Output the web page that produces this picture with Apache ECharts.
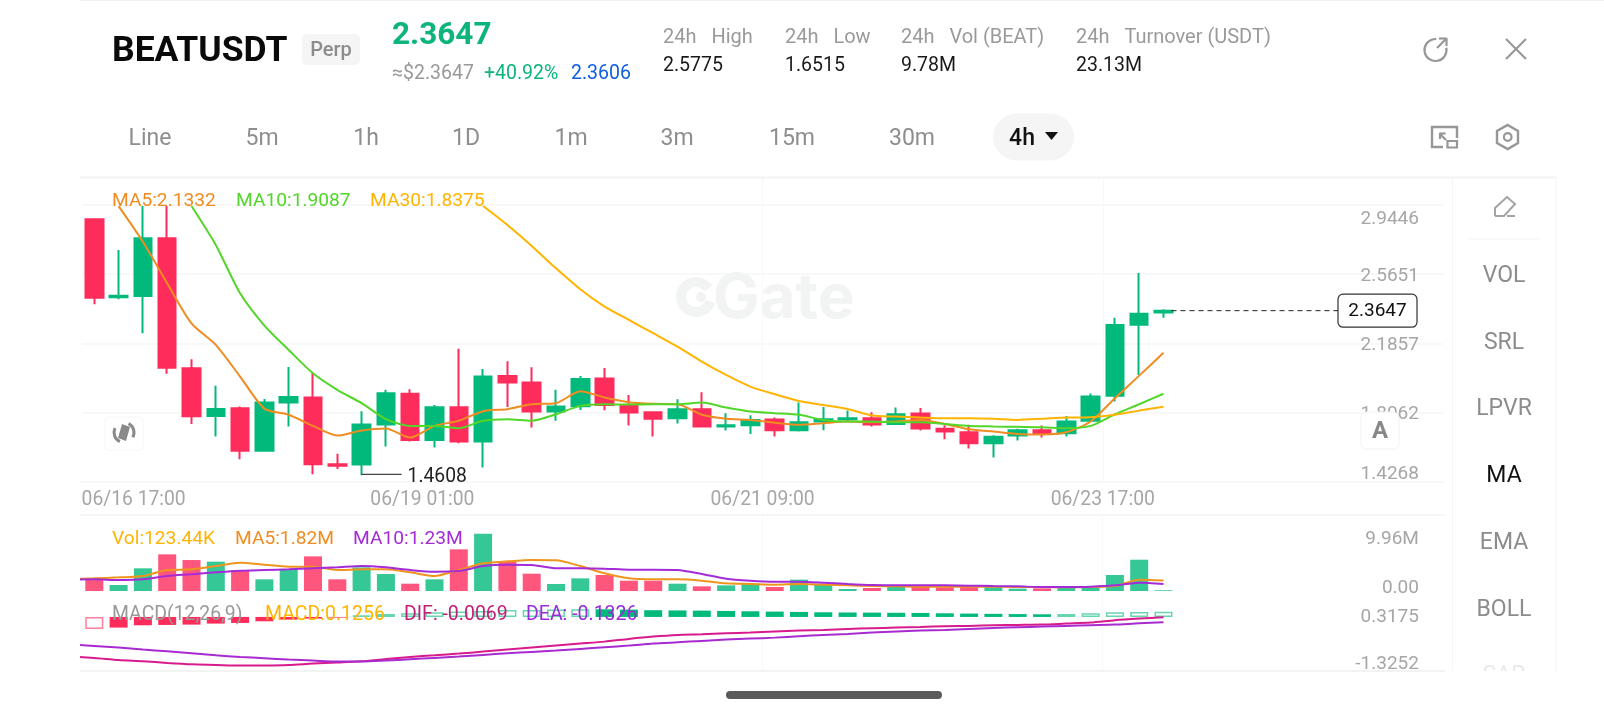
<!DOCTYPE html>
<html>
<head>
<meta charset="utf-8">
<title>BEATUSDT</title>
<style>html,body{margin:0;padding:0;background:#fff}#c{width:1604px;height:720px}</style>
<script src="https://cdn.jsdelivr.net/npm/echarts@6/dist/echarts.min.js"></script>
</head>
<body>
<div id="c"></div>
<script>
var categories = ["06/16 17:00","06/16 21:00","06/17 01:00","06/17 05:00","06/17 09:00","06/17 13:00","06/17 17:00","06/17 21:00","06/18 01:00","06/18 05:00","06/18 09:00","06/18 13:00","06/18 17:00","06/18 21:00","06/19 01:00","06/19 05:00","06/19 09:00","06/19 13:00","06/19 17:00","06/19 21:00","06/20 01:00","06/20 05:00","06/20 09:00","06/20 13:00","06/20 17:00","06/20 21:00","06/21 01:00","06/21 05:00","06/21 09:00","06/21 13:00","06/21 17:00","06/21 21:00","06/22 01:00","06/22 05:00","06/22 09:00","06/22 13:00","06/22 17:00","06/22 21:00","06/23 01:00","06/23 05:00","06/23 09:00","06/23 13:00","06/23 17:00","06/23 21:00","06/24 01:00","","","","","","","","","","",""];
var opens  = [2.866,2.438,2.445,2.762,2.049,1.787,1.829,1.595,1.860,1.888,1.522,1.520,1.740,1.908,1.655,1.835,1.646,2.006,1.970,1.811,1.840,1.992,1.847,1.807,1.774,1.824,1.729,1.736,1.767,1.708,1.756,1.769,1.774,1.743,1.800,1.716,1.697,1.637,1.679,1.708,1.692,1.761,1.897,2.288,2.354];
var closes = [2.436,2.447,2.762,2.052,1.785,1.825,1.595,1.860,1.891,1.522,1.513,1.740,1.911,1.655,1.835,1.646,2.003,1.970,1.811,1.838,1.990,1.847,1.805,1.772,1.824,1.729,1.736,1.765,1.708,1.752,1.769,1.774,1.740,1.796,1.718,1.701,1.637,1.672,1.708,1.688,1.756,1.893,2.286,2.348,2.3647];
var lows   = [2.400,2.427,2.241,2.019,1.743,1.674,1.549,1.591,1.729,1.467,1.496,1.4608,1.619,1.646,1.613,1.637,1.504,1.836,1.723,1.760,1.820,1.818,1.734,1.674,1.745,1.725,1.707,1.688,1.674,1.701,1.708,1.756,1.729,1.740,1.707,1.659,1.608,1.558,1.652,1.668,1.674,1.758,1.866,2.012,2.326];
var highs  = [2.866,2.698,2.939,2.939,2.098,1.953,1.838,1.880,2.056,2.025,1.579,1.813,1.930,1.933,1.847,2.155,2.045,2.087,2.054,1.930,2.006,2.050,1.902,1.807,1.878,1.917,1.802,1.791,1.778,1.860,1.836,1.816,1.807,1.833,1.831,1.736,1.738,1.681,1.716,1.734,1.787,1.910,2.326,2.572,2.372];
var ma5  = [null,2.939,2.743,2.515,2.295,2.177,2.003,1.827,1.793,1.732,1.679,1.707,1.718,1.668,1.732,1.760,1.813,1.824,1.851,1.857,1.922,1.888,1.862,1.853,1.851,1.793,1.771,1.765,1.750,1.738,1.747,1.756,1.752,1.756,1.765,1.743,1.714,1.701,1.688,1.685,1.697,1.756,1.884,2.008,2.1332];
var ma10 = [null,null,null,null,2.939,2.725,2.460,2.283,2.149,2.021,1.930,1.857,1.769,1.732,1.732,1.719,1.760,1.769,1.761,1.796,1.842,1.851,1.849,1.851,1.851,1.860,1.833,1.811,1.802,1.793,1.765,1.756,1.756,1.752,1.752,1.743,1.732,1.729,1.727,1.725,1.719,1.732,1.796,1.851,1.9087];
var ma30 = [null,null,null,null,null,null,null,null,null,null,null,null,null,null,null,null,2.939,2.835,2.720,2.597,2.482,2.387,2.314,2.241,2.167,2.085,2.012,1.948,1.906,1.869,1.847,1.825,1.789,1.783,1.778,1.774,1.774,1.771,1.765,1.771,1.778,1.780,1.793,1.816,1.8375];
// The two lower panes keep one earlier bar, cut off by the pane's left edge.
var lowerCategories = ["06/16 13:00"].concat(categories);
var volumes = [null,1.91,1.04,3.94,6.37,5.38,5.10,3.65,2.03,3.76,6.02,2.03,4.11,2.95,1.27,2.03,7.24,9.96,5.10,3.01,1.22,2.20,2.78,1.79,1.79,1.27,0.81,0.98,1.27,0.69,1.97,1.16,0.35,0.52,0.87,0.69,0.64,0.69,0.87,0.41,0.46,0.58,0.69,2.78,5.44,0.12344];
var volMa5  = [2.08,2.20,2.37,2.61,3.65,3.76,4.34,4.92,4.57,4.23,4.23,3.65,3.76,3.76,3.24,2.61,3.65,4.81,5.15,5.38,5.33,4.34,3.07,2.20,2.03,2.03,1.79,1.33,1.22,1.10,1.22,1.10,0.98,0.87,0.81,0.75,0.75,0.75,0.75,0.69,0.69,0.64,0.69,0.87,1.95,1.82];
var volMa10 = [1.97,2.03,1.91,2.03,2.61,2.90,3.24,3.53,3.65,3.76,3.94,4.11,4.34,4.11,3.65,3.36,3.47,4.34,4.57,4.52,3.94,3.94,3.88,3.71,3.71,3.65,2.95,2.14,1.79,1.62,1.62,1.45,1.22,1.04,0.98,0.98,0.98,0.93,0.87,0.81,0.69,0.69,0.75,0.98,1.45,1.23];
var macdHist = [null,-0.294,-0.261,-0.204,-0.196,-0.188,-0.163,-0.147,-0.106,-0.065,-0.041,-0.016,0.041,0.074,0.090,0.114,0.131,0.147,0.172,0.172,0.180,0.190,0.188,0.180,0.165,0.160,0.155,0.147,0.139,0.131,0.123,0.114,0.110,0.106,0.102,0.098,0.090,0.082,0.076,0.070,0.065,0.074,0.090,0.114,0.122,0.1256];
var dif = [-0.970,-1.005,-1.054,-1.087,-1.127,-1.160,-1.176,-1.193,-1.190,-1.176,-1.144,-1.119,-1.087,-1.029,-0.980,-0.940,-0.899,-0.850,-0.801,-0.752,-0.703,-0.654,-0.605,-0.539,-0.482,-0.441,-0.425,-0.400,-0.384,-0.359,-0.335,-0.319,-0.294,-0.278,-0.261,-0.245,-0.229,-0.221,-0.204,-0.196,-0.188,-0.163,-0.139,-0.082,-0.041,-0.0069];
var dea = [-0.670,-0.711,-0.752,-0.801,-0.842,-0.891,-0.940,-0.980,-1.013,-1.046,-1.070,-1.095,-1.095,-1.070,-1.038,-1.005,-0.972,-0.931,-0.891,-0.858,-0.825,-0.784,-0.743,-0.703,-0.654,-0.621,-0.588,-0.556,-0.531,-0.507,-0.474,-0.441,-0.417,-0.384,-0.359,-0.335,-0.319,-0.294,-0.270,-0.253,-0.237,-0.221,-0.204,-0.188,-0.155,-0.1326];
var priceTicks = [1.4268,1.8062,2.1857,2.5651,2.9446];
var volTicks = [0,9.96];
var macdTicks = [-1.3252,0.3175];
var timeTicks = [-0.5,13.5,27.5,41.5];
var timeLabels = ["06/16 17:00","06/19 01:00","06/21 09:00","06/23 17:00"];
var lastPrice = 2.3647, lowMark = 1.4608, lowIndex = 11;

var GREEN='#02B97C', RED='#FE2C5B', FONT='Roboto, "Liberation Sans", sans-serif';
var GRIDLINE='#F8F8F8', AXISTXT='#A6A6A6', BAND=24.3;

var chart = echarts.init(document.getElementById('c'), null, {renderer:'canvas'});
var gridL = 82.15, gridW = 1360.8;
function catAxis(idx, pos, cats, lead){
  return {type:'category', gridIndex:idx, data:cats, position:pos, boundaryGap:true,
    axisLine:{show:false}, axisTick:{show:false}, axisLabel:{show:false},
    splitLine:{show:true, showMinLine:false, showMaxLine:false,
      interval:function(i){ var k=i-lead; return k>0 && k%14===0 && k<=42; },
      lineStyle:{color:'#F8F8F9', width:1}}};
}
function pad(t,b){ return {padding:[t,0,b,0],color:AXISTXT,fontFamily:FONT,fontSize:19}; }
function valAxis(idx, lo, hi, ticks, fmt, rich, split){
  return {type:'value', gridIndex:idx, position:'right', min:lo, max:hi,
    axisLine:{show:false}, axisTick:{show:false, customValues:ticks},
    splitLine:{show:split, lineStyle:{color:GRIDLINE, width:2}},
    axisLabel:{show:true, inside:true, margin:24, customValues:ticks, formatter:fmt, rich:rich,
      color:AXISTXT, fontFamily:FONT, fontSize:19}};
}
function line(name,xi,yi,data,color,w){
  return {name:name,type:'line',xAxisIndex:xi,yAxisIndex:yi,data:data,showSymbol:false,symbol:'none',smooth:0.25,
    lineStyle:{color:color,width:w||2},itemStyle:{color:color},z:5,animation:false};
}
var candleData = opens.map(function(o,i){return [o,closes[i],lows[i],highs[i]];});
var macdData = macdHist.map(function(v,i){
  if(v===null) return {value:null};
  var hollow = i===1 || Math.abs(v) >= Math.abs(macdHist[i-1]);
  var c = v>=0 ? GREEN : RED;
  return {value:v,itemStyle: hollow ? {color:'rgba(255,255,255,0)',borderColor:c,borderWidth:1.5,opacity:0.6} : {color:c}};
});

function T(s,x,y,fill,size,opt){
  opt=opt||{};
  return {type:'text',x:x,y:y+2,z:opt.z||30,silent:true,style:{text:s,fill:fill,
    font:(opt.weight||'400')+' '+size+'px '+(opt.family||FONT),
    textAlign:opt.align||'left',textVerticalAlign:'middle',opacity:opt.opacity==null?1:opt.opacity}};
}
function L(x1,y1,x2,y2,color,w,opt){
  opt=opt||{};
  return {type:'line',silent:true,z:opt.z||1,shape:{x1:x1,y1:y1,x2:x2,y2:y2},style:{stroke:color,lineWidth:w||1,lineCap:opt.cap||'butt',lineDash:opt.dash}};
}
function R(x,y,w,h,r,fill,stroke,opt){
  opt=opt||{};
  return {type:'rect',silent:true,z:opt.z||2,shape:{x:x,y:y,width:w,height:h,r:r},style:{fill:fill,stroke:stroke,lineWidth:opt.lw||1}};
}
var ICON='#979797', TAB='#8E8E8E', SIDE='#8C8C8C';
var g = [
  // frame
  L(80,177.5,1556,177.5,'#F3F3F4',2), L(80,515,1445,515,'#F3F3F4',1.5), L(80,671,1445,671,'#F3F3F4',2),
  L(80,482,82,482,GRIDLINE,2), L(1443,482,1445,482,GRIDLINE,2),
  L(80,0.5,1604,0.5,'#F0F0F0',1),
  L(1452.5,178,1452.5,671,'#F6F6F7',1), L(1556,178,1556,671,'#F4F4F5',1),
  L(1468,239,1540,239,'#F3F3F4',1),
  // left cover for the lower panes
  {type:'rect',silent:true,z:25,shape:{x:0,y:516,width:80,height:160},style:{fill:'#fff'}},
  // header
  T('BEATUSDT',112,50,'#0A0A0A',35.5,{weight:'700'}),
  R(302,34,58,31,5,'#F5F5F5'), T('Perp',331,49,'#8C8C8C',20,{align:'center',weight:'500'}),
  T('2.3647',392,34,'#0DB47C',31.5,{weight:'700'}),
  T('≈$2.3647',392,72,'#999999',19.5), T('+40.92%',484,72,'#0DB47C',19.5), T('2.3606',571,72,'#0F5FE0',19.5),
  T('24h   High',663,36,'#9A9A9A',20), T('2.5775',663,64,'#1A1A1A',19.5),
  T('24h   Low',785,36,'#9A9A9A',20), T('1.6515',785,64,'#1A1A1A',19.5),
  T('24h   Vol (BEAT)',901,36,'#9A9A9A',20), T('9.78M',901,64,'#1A1A1A',19.5),
  T('24h   Turnover (USDT)',1076,36,'#9A9A9A',20), T('23.13M',1076,64,'#1A1A1A',19.5),
  // top icons
  {type:'arc',silent:true,z:30,shape:{cx:1435.5,cy:50,r:11,startAngle:-0.2,endAngle:-1.5,clockwise:true},style:{stroke:ICON,lineWidth:2.2,fill:null}},
  L(1437,48,1446,39,ICON,2.2,{z:30}), L(1439,38.5,1446.5,38.5,ICON,2.2,{z:30}), L(1446.5,38,1446.5,46,ICON,2.2,{z:30}),
  L(1506,39,1526,59,ICON,2.2,{z:30}), L(1526,39,1506,59,ICON,2.2,{z:30}),
  {type:'polyline',silent:true,z:30,shape:{points:[[1443,147],[1432,147],[1432,127],[1457,127],[1457,138]]},style:{stroke:ICON,lineWidth:2.4,fill:null}},
  R(1447.5,141,9.5,6.5,0,'#fff',ICON,{lw:2.2,z:30}),
  L(1440,134,1446,140,ICON,2.2,{z:30}), L(1440,139,1440,133,ICON,2.2,{z:30}),L(1439.5,133.5,1445.5,133.5,ICON,2.2,{z:30}),
  {type:'polygon',silent:true,z:30,shape:{points:[[1507.7,125],[1518,131],[1518,143],[1507.7,149],[1497,143],[1497,131]]},style:{stroke:ICON,lineWidth:2.4,fill:null}},
  {type:'circle',silent:true,z:30,shape:{cx:1507.7,cy:137,r:3.8},style:{stroke:ICON,lineWidth:2.2,fill:null}},
  // tabs
  T('Line',150,137.5,TAB,23,{align:'center'}), T('5m',262,137.5,TAB,23,{align:'center'}),
  T('1h',366,137.5,TAB,23,{align:'center'}), T('1D',466,137.5,TAB,23,{align:'center'}),
  T('1m',571,137.5,TAB,23,{align:'center'}), T('3m',677,137.5,TAB,23,{align:'center'}),
  T('15m',792,137.5,TAB,23,{align:'center'}), T('30m',912,137.5,TAB,23,{align:'center'}),
  R(993,113.5,81,47,23.5,'#F5F5F5'), T('4h',1022,137.5,'#111111',23,{align:'center',weight:'500'}),
  {type:'polygon',silent:true,z:30,shape:{points:[[1045,132],[1058,132],[1051.5,140]]},style:{fill:'#111'}},
  // watermark
  {type:'arc',silent:true,z:1,shape:{cx:696,cy:297,r:15,startAngle:0.3,endAngle:-0.6,clockwise:true},style:{stroke:'#F2F4F3',lineWidth:10,fill:null}},
  {type:'circle',silent:true,z:1,shape:{cx:701,cy:297,r:5},style:{fill:'#F2F4F3'}},
  T('Gate',713,297,'#F2F4F3',62,{weight:'700',z:1,family:'Inter, Roboto, sans-serif'}),
  // price legends
  T('MA5:2.1332',112,199,'#EF8C22',19.2), T('MA10:1.9087',236,199,'#52D62A',19.2), T('MA30:1.8375',370,199,'#FFB400',19.2),
  T('Vol:123.44K',112,537,'#FFB400',19.2), T('MA5:1.82M',235,537,'#EF8C22',19.2), T('MA10:1.23M',353,537,'#A42BD8',19.2),
  T('MACD(12,26,9)',112,613.5,'#999999',19.4), T('MACD:0.1256',265,613.5,'#FFB400',19.5), T('DIF: -0.0069',404,613.5,'#C21E78',19.5), T('DEA: -0.1326',526,613.5,'#9A2BD8',19.5),
  // side panel
  {type:'polyline',silent:true,z:30,shape:{points:[[1495,216],[1495,208],[1507,197],[1515,204],[1504,216],[1495,216]]},style:{stroke:'#A3A3A3',lineWidth:2,fill:null}},
  L(1507,216,1515,216,'#A3A3A3',2,{z:30}),
  T('VOL',1504,274,SIDE,23,{align:'center'}), T('SRL',1504,341,SIDE,23,{align:'center'}),
  T('LPVR',1504,407.5,SIDE,23,{align:'center'}), T('MA',1504,474.5,'#111111',23,{align:'center'}),
  T('EMA',1504,541.5,SIDE,23,{align:'center'}), T('BOLL',1504,608.5,SIDE,23,{align:'center'}),
  T('SAR',1504,674,'#EAEAEA',23,{align:'center',z:26}),
  {type:'rect',silent:true,z:27,shape:{x:1453,y:671,width:120,height:20},style:{fill:'#fff'}},
  // buttons
  R(105,417,38,33,4,'#fff','#F6F6F6',{z:20}),
  {type:'arc',silent:true,z:21,shape:{cx:124,cy:432.5,r:10,startAngle:2.0,endAngle:3.6,clockwise:true},style:{stroke:'#8A8A8A',lineWidth:3,fill:null}},
  {type:'arc',silent:true,z:21,shape:{cx:124,cy:432.5,r:10,startAngle:-1.1,endAngle:0.5,clockwise:true},style:{stroke:'#8A8A8A',lineWidth:3,fill:null}},
  {type:'polygon',silent:true,z:21,shape:{points:[[122,424],[130,427],[126,441],[118,438]]},style:{fill:'#8A8A8A'}},
  R(1361,412,38,37,6,'#FFFFFF','#F2F2F2',{z:20}), T('A',1380,430,'#888888',24,{align:'center',weight:'700',z:21}),
  // home bar
  R(726,691,216,8,4,'#5A5A5A')
];

chart.setOption({
  animation:false,
  backgroundColor:'#fff',
  tooltip:{show:false},
  legend:{show:false},
  grid:[
    {left:gridL,width:gridW,top:177,height:304.5},
    {left:gridL-BAND,width:gridW+BAND,top:515,height:76},
    {left:gridL-BAND,width:gridW+BAND,top:591,height:80}
  ],
  xAxis:[
    catAxis(0,'top',categories,0),
    {type:'value',gridIndex:0,position:'bottom',min:-0.5,max:55.5,
      axisLine:{show:false},axisTick:{show:false},splitLine:{show:false},
      axisLabel:{show:true,customValues:timeTicks,margin:9,color:AXISTXT,fontFamily:FONT,fontSize:19.3,
        rich:{f:{padding:[0,0,0,103],color:AXISTXT,fontFamily:FONT,fontSize:19.3}},
        formatter:function(v){var i=timeTicks.indexOf(v);return i===0?'{f|'+timeLabels[0]+'}':(timeLabels[i]||'');}}},
    catAxis(1,'bottom',lowerCategories,1),
    catAxis(2,'bottom',lowerCategories,1)
  ],
  yAxis:[
    valAxis(0,1.4268,3.0986,priceTicks,function(v){
        return (v===2.9446?'{a|':v===1.4268?'{b|':'{m|')+v.toFixed(4)+'}';},
      {a:pad(28,0),b:pad(0,14),m:pad(4,0)},true),
    valAxis(1,0,13.21,volTicks,function(v){return v===0?'{b|0.00}':'{a|9.96M}';},
      {a:pad(12,0),b:pad(0,6)},false),
    valAxis(2,-1.3252,0.636,macdTicks,function(v){return (v>0?'{a|':'{b|')+v.toFixed(4)+'}';},
      {a:pad(26,0),b:pad(0,14)},false)
  ],
  series:[
    {name:'K',type:'candlestick',xAxisIndex:0,yAxisIndex:0,data:candleData,barWidth:18,z:3,animation:false,
      itemStyle:{color:GREEN,color0:RED,borderColor:GREEN,borderColor0:RED,borderWidth:2}},
    line('MA5',0,0,ma5,'#EF8C22'), line('MA10',0,0,ma10,'#52D62A'), line('MA30',0,0,ma30,'#FFB400'),
    {name:'Vol',type:'bar',xAxisIndex:2,yAxisIndex:1,data:volumes,barWidth:18,animation:false,
      itemStyle:{opacity:0.8,color:function(p){var i=p.dataIndex-1;return closes[i]>=opens[i]?GREEN:RED;}}},
    line('VolMA5',2,1,volMa5,'#EF951E'), line('VolMA10',2,1,volMa10,'#A42BD8'),
    {name:'MACD',type:'bar',xAxisIndex:3,yAxisIndex:2,data:macdData,barWidth:18,animation:false},
    line('DIF',3,2,dif,'#D81B8C'), line('DEA',3,2,dea,'#A82BD0')
  ],
  graphic:{elements:g}
});

// overlays anchored to the chart's own scales
var pLow = chart.convertToPixel({xAxisIndex:0,yAxisIndex:0},[lowIndex,lowMark]);
var pLast = chart.convertToPixel({xAxisIndex:0,yAxisIndex:0},[44,lastPrice]);
var extra = [
  L(pLow[0],pLow[1]-1,pLow[0]+40,pLow[1]-1,'#444444',1.2,{z:10}),
  T('1.4608',pLow[0]+46,pLow[1],'#222222',19.3,{z:10}),
  L(pLast[0]+8,pLast[1],1338,pLast[1],'#222222',1,{z:10,dash:[5,4]}),
  R(1338,pLast[1]-16.5,79,33,5,'#FFFFFF','#333333',{z:12,lw:1.2}),
  T('2.3647',1377.5,pLast[1]-1,'#111111',19,{align:'center',z:13})
];
chart.setOption({graphic:{elements:g.concat(extra)}});
</script>
</body>
</html>
